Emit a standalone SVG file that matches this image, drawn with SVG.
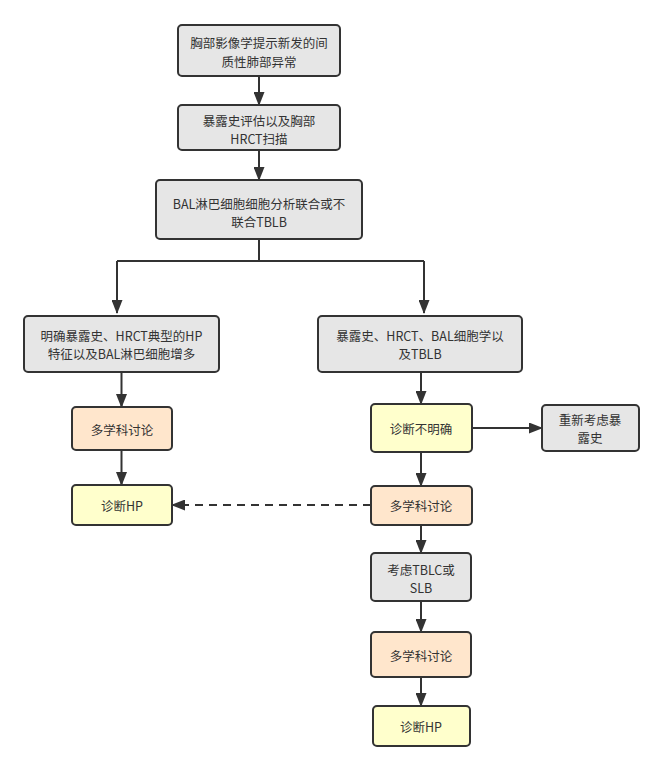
<svg xmlns="http://www.w3.org/2000/svg" width="663" height="770" viewBox="0 0 663 770">
<style>
.n{stroke:#333;stroke-width:2}
.g{fill:#e6e6e6}.o{fill:#ffe6cc}.y{fill:#ffffcc}
text{font-family:"Noto Sans CJK SC","Liberation Sans",sans-serif;font-size:12.5px;fill:#333;text-anchor:middle;dominant-baseline:central}
.c{fill:none;stroke:#333;stroke-width:2}
.a{marker-end:url(#ah)}
.d{stroke-dasharray:8 6}
</style>
<defs>
<marker id="ah" viewBox="0 0 14 11" markerWidth="14" markerHeight="11" refX="13" refY="5.5" orient="auto" markerUnits="userSpaceOnUse">
<path d="M0,0 L14,5.5 L0,11 z" fill="#333"/>
</marker>
</defs>
<rect width="663" height="770" fill="#fff"/>
<g id="connectors">
<path class="c a" d="M259,76 V105"/>
<path class="c a" d="M259,150 V180"/>
<path class="c" d="M259,239 V261 M117,261 H424"/>
<path class="c a" d="M117,261 V313"/>
<path class="c a" d="M424,261 V313"/>
<path class="c a" d="M121.5,372 V407"/>
<path class="c a" d="M121.5,450 V485"/>
<path class="c a" d="M421,372 V404"/>
<path class="c a" d="M472,428 H542"/>
<path class="c a" d="M421,452 V486"/>
<path class="c a d" d="M371,505 H172"/>
<path class="c a" d="M421,525 V553"/>
<path class="c a" d="M421,601 V632"/>
<path class="c a" d="M421,677 V706"/>
</g>
<g id="n1"><rect class="n g" x="178" y="25" width="162" height="51" rx="4"/><text x="259" y="42.5">胸部影像学提示新发的间</text><text x="259" y="61">质性肺部异常</text></g>
<g id="n2"><rect class="n g" x="178" y="105" width="162" height="45" rx="4"/><text x="259" y="120">暴露史评估以及胸部</text><text x="259" y="138.5">HRCT扫描</text></g>
<g id="n3"><rect class="n g" x="156" y="180" width="206" height="59" rx="4"/><text x="259" y="203">BAL淋巴细胞细胞分析联合或不</text><text x="259" y="221.5">联合TBLB</text></g>
<g id="n4"><rect class="n g" x="24" y="316" width="195" height="56" rx="4"/><text x="121.5" y="335">明确暴露史、HRCT典型的HP</text><text x="121.5" y="353.5">特征以及BAL淋巴细胞增多</text></g>
<g id="n5"><rect class="n o" x="72" y="407" width="100" height="43" rx="4"/><text x="122" y="429">多学科讨论</text></g>
<g id="n6"><rect class="n y" x="72" y="485" width="100" height="40" rx="4"/><text x="122" y="505">诊断HP</text></g>
<g id="n7"><rect class="n g" x="318" y="316" width="204" height="56" rx="4"/><text x="420" y="335">暴露史、HRCT、BAL细胞学以</text><text x="420" y="353.5">及TBLB</text></g>
<g id="n8"><rect class="n y" x="371" y="404" width="101" height="48" rx="4"/><text x="421" y="428">诊断不明确</text></g>
<g id="n9"><rect class="n g" x="542" y="405" width="97" height="46" rx="4"/><text x="590" y="419">重新考虑暴</text><text x="590" y="437.5">露史</text></g>
<g id="n10"><rect class="n o" x="371" y="486" width="101" height="39" rx="4"/><text x="421" y="505">多学科讨论</text></g>
<g id="n11"><rect class="n g" x="371" y="553" width="100" height="48" rx="4"/><text x="421" y="569">考虑TBLC或</text><text x="421" y="587.5">SLB</text></g>
<g id="n12"><rect class="n o" x="371" y="632" width="100" height="45" rx="4"/><text x="421" y="655">多学科讨论</text></g>
<g id="n13"><rect class="n y" x="373" y="706" width="97" height="40" rx="4"/><text x="421" y="726">诊断HP</text></g>
</svg>
